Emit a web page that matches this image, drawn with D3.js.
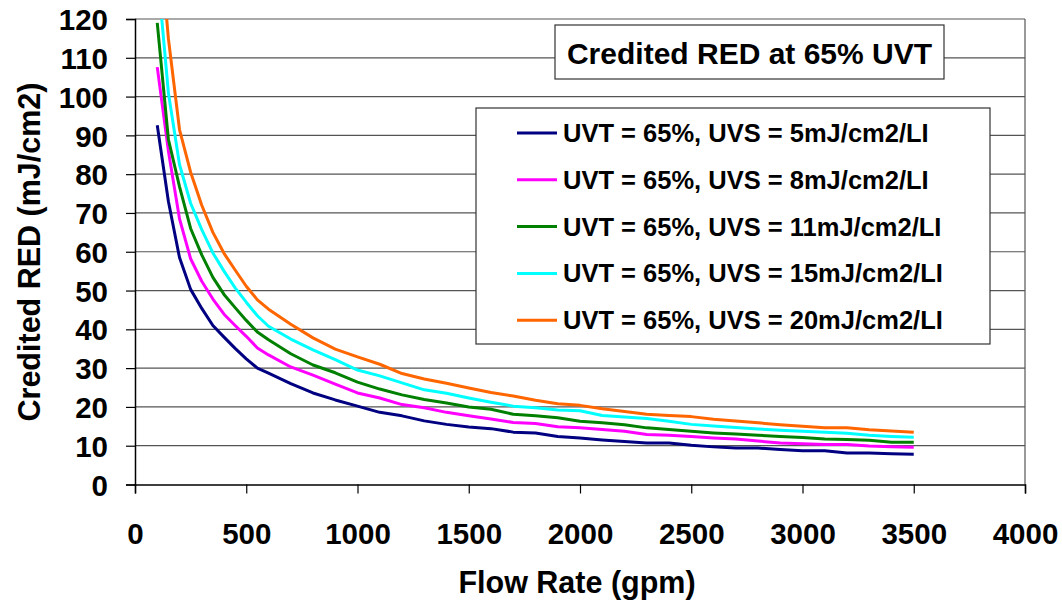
<!DOCTYPE html>
<html><head><meta charset="utf-8">
<script src="https://cdn.jsdelivr.net/npm/d3@7"></script>
<style>
html,body{margin:0;padding:0;background:#fff;}
svg text{font-family:"Liberation Sans",Arial,sans-serif;font-weight:bold;fill:#000;}
</style></head>
<body>
<svg id="chart" width="1062" height="603"></svg>
<script>
const flow = [100,150,200,250,300,350,400,450,500,550,600,700,800,900,1000,1100,1200,1300,1400,1500,1600,1700,1800,1900,2000,2100,2200,2300,2400,2500,2600,2700,2800,2900,3000,3100,3200,3300,3400,3500];
const uvs5  = [92.6,73,58.5,50.3,45.4,41,38,35.1,32.4,30.0,28.7,26,23.6,21.8,20.2,18.6,17.7,16.4,15.5,14.8,14.4,13.5,13.3,12.4,12.0,11.5,11.1,10.7,10.7,10.1,9.7,9.4,9.4,9.0,8.7,8.7,8.1,8.1,7.9,7.8];
const uvs8  = [107.6,86,68.5,58.2,52.4,47.8,43.9,41,38.2,35.2,33.4,30.3,28.2,25.9,23.6,22.3,20.6,19.8,18.6,17.7,16.9,16.0,15.7,14.9,14.6,14.2,13.7,12.9,12.7,12.4,12.0,11.7,11.2,10.7,10.5,10.3,10.3,9.9,9.7,9.6];
const uvs11 = [119,89,76.8,66,59.2,53.4,49.0,45.6,42.3,39.3,37.3,33.7,30.8,28.8,26.4,24.6,23.1,21.9,21.0,20.0,19.4,18.1,17.7,17.2,16.3,15.9,15.4,14.6,14.2,13.7,13.3,13.0,12.7,12.4,12.1,11.7,11.6,11.4,10.9,10.9];
const uvs15 = [133,101,82.5,72.5,65.7,59.7,55,50.7,47,43.5,40.8,37.5,34.7,32.2,29.5,28.0,26.2,24.4,23.5,22.3,21.2,20.2,19.8,19.2,19.0,17.8,17.4,17.0,16.3,15.5,15.1,14.7,14.3,14.0,13.7,13.5,13.2,12.7,12.4,12.2];
const uvs20 = [148,115,91.5,80.5,72,65,59.6,55.3,51.1,47.6,45.2,41.3,37.8,34.9,32.9,31.0,28.6,27.2,26.1,24.9,23.7,22.8,21.7,20.8,20.4,19.5,18.8,18.1,17.8,17.5,16.8,16.4,15.9,15.4,15.0,14.6,14.6,14.1,13.8,13.5];
const seriesNames = ["UVT = 65%, UVS = 5mJ/cm2/LI","UVT = 65%, UVS = 8mJ/cm2/LI","UVT = 65%, UVS = 11mJ/cm2/LI","UVT = 65%, UVS = 15mJ/cm2/LI","UVT = 65%, UVS = 20mJ/cm2/LI"];
const seriesColors = ["#000080","#ff00ff","#008000","#00ffff","#ff6600"];
const xTicks = [0,500,1000,1500,2000,2500,3000,3500,4000];
const yTicks = [0,10,20,30,40,50,60,70,80,90,100,110,120];
const chartTitle = "Credited RED at 65% UVT";
const xTitle = "Flow Rate (gpm)";
const yTitle = "Credited RED (mJ/cm2)";

const allSeries = [uvs5, uvs8, uvs11, uvs15, uvs20];

const svg = d3.select("#chart");
const L = 135, R = 1025, T = 19, B = 484.5;
const x = d3.scaleLinear().domain([0,4000]).range([L,R]);
const y = d3.scaleLinear().domain([0,120]).range([B,T]);

// gridlines
svg.append("g").selectAll("line").data(yTicks.filter(d=>d>0)).join("line")
  .attr("x1",L).attr("x2",R).attr("y1",d=>y(d)).attr("y2",d=>y(d))
  .attr("stroke","#555").attr("stroke-width",1.2);
// right border
svg.append("line").attr("x1",R).attr("x2",R).attr("y1",T).attr("y2",B).attr("stroke","#555").attr("stroke-width",1.2);

// axes
const yAxis = d3.axisLeft(y).tickValues(yTicks).tickSize(9).tickPadding(18).tickFormat(d3.format("d"));
const gy = svg.append("g").attr("transform",`translate(${L},0)`).call(yAxis);
const xAxis = d3.axisBottom(x).tickValues(xTicks).tickSize(9).tickPadding(30).tickFormat(d3.format("d"));
const gx = svg.append("g").attr("transform",`translate(0,${B})`).call(xAxis);
[gx,gy].forEach(g=>{
  g.select(".domain").attr("stroke","#000").attr("stroke-width",1.5);
  g.selectAll(".tick line").attr("stroke","#000").attr("stroke-width",1.2);
  g.selectAll(".tick text").style("font-family",'"Liberation Sans",Arial,sans-serif').style("font-weight","bold").style("font-size","29.5px").attr("fill","#000");
});
gx.selectAll(".tick text").attr("dy","0.71em");
gy.selectAll(".tick text").attr("dy","0.36em");

// clip
svg.append("clipPath").attr("id","plotclip").append("rect").attr("x",L).attr("y",T).attr("width",R-L).attr("height",B-T);

const line = d3.line().x((d,i)=>x(flow[i])).y(d=>y(d));
svg.append("g").attr("clip-path","url(#plotclip)").selectAll("path").data(allSeries).join("path")
  .attr("d",d=>line(d)).attr("fill","none").attr("stroke",(d,i)=>seriesColors[i]).attr("stroke-width",3).attr("stroke-linejoin","round");

// title box
svg.append("rect").attr("x",555).attr("y",25).attr("width",389).attr("height",54).attr("fill","#fff").attr("stroke","#333").attr("stroke-width",1.2);
svg.append("text").attr("x",749.5).attr("y",53).attr("text-anchor","middle").attr("dominant-baseline","central").style("font-size","30px").text(chartTitle);

// legend
svg.append("rect").attr("x",476).attr("y",108).attr("width",514).attr("height",236).attr("fill","#fff").attr("stroke","#333").attr("stroke-width",1.2);
const lg = svg.append("g").selectAll("g").data(seriesNames).join("g").attr("transform",(d,i)=>`translate(0,${133+i*46.8})`);
lg.append("line").attr("x1",517).attr("x2",557).attr("y1",0).attr("y2",0).attr("stroke",(d,i)=>seriesColors[i]).attr("stroke-width",3);
lg.append("text").attr("x",563).attr("y",0).attr("dominant-baseline","central").style("font-size","25.5px").text(d=>d);

// axis titles
svg.append("text").attr("x",577).attr("y",582).attr("text-anchor","middle").attr("dominant-baseline","central").style("font-size","30.5px").text(xTitle);
svg.append("text").attr("transform","translate(29,252) rotate(-90)").attr("text-anchor","middle").attr("dominant-baseline","central").style("font-size","30.5px").text(yTitle);
</script>
</body></html>
